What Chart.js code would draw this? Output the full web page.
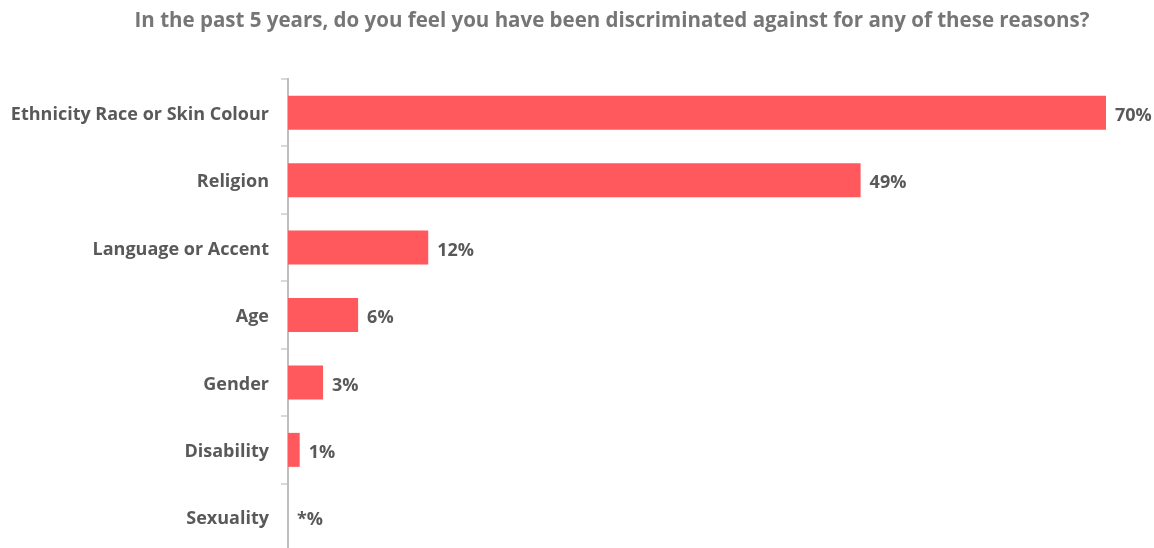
<!DOCTYPE html>
<html>
<head>
<meta charset="utf-8">
<script src="https://cdn.jsdelivr.net/npm/chart.js@4.4.0/dist/chart.umd.min.js"></script>
<style>
  html, body { margin: 0; padding: 0; background: #fff; overflow: hidden; }
  #wrap { width: 1154px; height: 551px; position: relative; }
</style>
</head>
<body>
<div id="wrap"><canvas id="chart"></canvas></div>
<script>
const categories = [
    'Ethnicity Race or Skin Colour',
    'Religion',
    'Language or Accent',
    'Age',
    'Gender',
    'Disability',
    'Sexuality',
];
const values = [70, 49, 12, 6, 3, 1, 0];
const valueLabels = ['70%', '49%', '12%', '6%', '3%', '1%', '*%'];
const titleText = 'In the past 5 years, do you feel you have been discriminated against for any of these reasons?';

const FONT = "'Open Sans', 'Noto Sans', sans-serif";

// Title is drawn by hand: it sits right of the canvas centre in the original
const titlePlugin = {
    id: 'customTitle',
    afterDraw: (chart) => {
        const ctx = chart.ctx;
        ctx.save();
        ctx.font = 'bold 20.5px ' + FONT;
        ctx.fillStyle = '#767676';
        ctx.textAlign = 'center';
        ctx.textBaseline = 'middle';
        ctx.fillText(titleText, 612, 21);
        ctx.restore();
    },
};

// Draw value labels at the end of each bar
const barLabels = {
    id: 'barLabels',
    afterDatasetsDraw: (chart) => {
        const ctx = chart.ctx;
        const meta = chart.getDatasetMeta(0);
        ctx.save();
        ctx.font = 'bold 18px ' + FONT;
        ctx.fillStyle = '#595959';
        ctx.textAlign = 'left';
        ctx.textBaseline = 'middle';
        meta.data.forEach((bar, i) => {
            ctx.fillText(valueLabels[i], bar.x + 9, bar.y + 3);
        });
        ctx.restore();
    },
};

new Chart(document.getElementById('chart'), {
    type: 'bar',
    data: {
        labels: categories,
        datasets: [{
            data: values,
            backgroundColor: '#ff585d',
            borderWidth: 0,
            barPercentage: 0.72,
            categoryPercentage: 0.7,
        }],
    },
    options: {
        indexAxis: 'y',
        responsive: true,
        maintainAspectRatio: false,
        animation: false,
        layout: {
            padding: { left: 0, right: 48, top: 79, bottom: 0 },
        },
        plugins: {
            legend: { display: false },
            tooltip: { enabled: false },
            title: { display: false },
        },
        scales: {
            x: {
                display: false,
                min: 0,
                max: 70,
            },
            y: {
                afterFit: (scale) => {
                    scale.width = 288;
                    scale.paddingTop = 0;
                    scale.paddingBottom = 0;
                },
                border: { display: true, color: '#bfbfbf', width: 2 },
                grid: {
                    display: true,
                    drawOnChartArea: false,
                    drawTicks: true,
                    tickLength: 7,
                    color: '#d9d9d9',
                    lineWidth: 2,
                },
                ticks: {
                    color: '#595959',
                    padding: 12,
                    labelOffset: 2,
                    font: { family: FONT, size: 18, weight: 'bold' },
                },
            },
        },
    },
    plugins: [barLabels, titlePlugin],
});
</script>
</body>
</html>
